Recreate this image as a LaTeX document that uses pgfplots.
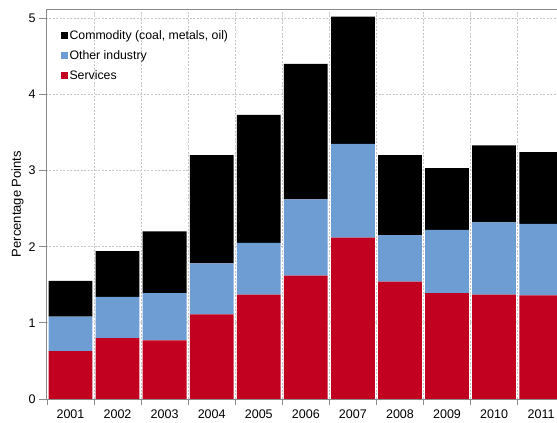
\documentclass[border=0pt]{standalone}
\usepackage{pgfplots}
\pgfplotsset{compat=1.18}
\usepackage{fontspec}
\setmainfont{Liberation Sans}

\definecolor{servred}{HTML}{C2001F}
\definecolor{indblue}{HTML}{6E9DD3}
\definecolor{framegray}{HTML}{8A8A8A}

\begin{document}
\begin{tikzpicture}
  \begin{axis}[
      scale only axis,
      width=514pt, height=390pt,
      ybar stacked, bar width=0.93,
      xmin=-0.52, xmax=10.4,
      ymin=0, ymax=5.12,
      axis line style={framegray, line width=0.8pt},
      tick align=outside,
      xtick pos=bottom, ytick pos=left,
      xtick={0,...,10},
      xticklabels={2001,2002,2003,2004,2005,2006,2007,2008,2009,2010,2011},
      major x tick style={draw=none},
      minor xtick={-0.5,0.5,...,10.5},
      minor tick length=6pt,
      major tick length=7pt,
      tick style={framegray, line width=0.8pt},
      ytick={0,...,5},
      ymajorgrids, xminorgrids,
      grid style={gray!45, dash pattern=on 2pt off 1.5pt, line width=0.9pt},
      /pgf/number format/assume math mode=true,
      tick label style={font=\fontsize{12.5}{14}\selectfont},
      ylabel={Percentage Points},
      every axis y label/.style={at={([xshift=-28.5pt]axis description cs:0,0.5)},
        rotate=90, anchor=center, font=\fontsize{13}{15}\selectfont},
      legend style={at={(axis description cs:0.024,0.955)}, anchor=north west,
        draw=none, fill=none, font=\fontsize{12.3}{14}\selectfont,
        row sep=5.5pt, inner sep=2pt},
      legend cell align=left,
      reverse legend,
      legend image code/.code={\draw[#1, draw=none] (0pt,-3.5pt) rectangle (7pt,3.5pt);},
    ]
    % services
    \addplot[fill=servred, draw=none] coordinates {
      (0,0.63) (1,0.80) (2,0.77) (3,1.11) (4,1.37) (5,1.62)
      (6,2.12) (7,1.54) (8,1.39) (9,1.37) (10,1.36)
    };
    % other industry
    \addplot[fill=indblue, draw=none] coordinates {
      (0,0.45) (1,0.54) (2,0.62) (3,0.67) (4,0.68) (5,1.00)
      (6,1.23) (7,0.61) (8,0.83) (9,0.95) (10,0.94)
    };
    % commodity
    \addplot[fill=black, draw=none] coordinates {
      (0,0.47) (1,0.60) (2,0.81) (3,1.42) (4,1.68) (5,1.78)
      (6,1.67) (7,1.05) (8,0.81) (9,1.01) (10,0.94)
    };
    \legend{Services, Other industry, {Commodity (coal, metals, oil)}}
  \end{axis}
  \pgfresetboundingbox
  \path (-46pt,-24pt) rectangle (511pt,399pt);
\end{tikzpicture}
\end{document}
